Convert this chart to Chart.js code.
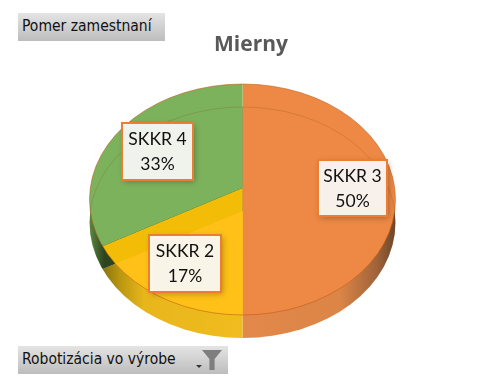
<!DOCTYPE html>
<html lang="sk">
<head>
<meta charset="utf-8">
<title>Mierny</title>
<script src="https://cdn.jsdelivr.net/npm/chart.js@4/dist/chart.umd.min.js"></script>
<style>
    html, body { margin: 0; padding: 0; background: #fff; }
    #wrap { position: relative; width: 485px; height: 388px; overflow: hidden; }
    canvas { position: absolute; left: 0; top: 0; }
    .field {
        position: absolute; left: 18px; height: 28px; padding-left: 4px; box-sizing: border-box;
        font: 15.5px/26px "DejaVu Sans Condensed", "DejaVu Sans", sans-serif; color: #111; background: linear-gradient(#e4e4e4, #bdbdbd);
    }
    #title {
        position: absolute; left: 151px; width: 200px; top: 29px; text-align: center;
        font: bold 21px "Open Sans", sans-serif; color: #595959;
    }
    #arrow { position: absolute; left: 196px; top: 365px; width: 0; height: 0; border: 3px solid transparent; border-top: 3px solid #333; }
    #funnel { position: absolute; left: 202px; top: 350px; width: 20px; height: 20px; background: #7f7f7f; clip-path: polygon(0 0, 100% 0, 63% 45%, 63% 100%, 37% 100%, 37% 45%); }
</style>
</head>
<body>
<div id="wrap">
    <canvas id="chart" width="485" height="388"></canvas>
    <div class="field" style="top:13px;width:147px">Pomer zamestnaní</div>
    <div id="title">Mierny</div>
    <div class="field" style="top:346px;width:210px">Robotizácia vo výrobe</div>
    <div id="arrow"></div>
    <div id="funnel"></div>
</div>
<script>
const categories = ["SKKR 3", "SKKR 2", "SKKR 4"];
const shares = [50, 17, 33];
const shareLabels = ["50%", "17%", "33%"];
const topColors = ["#ed8945", "#f2bc07", "#7db25c"];

const TILT = 0.755;
const RX = 153;
const TOP_CY = 199.5;
const DEPTH = 23;

const labelBoxes = [
    { x: 318, y: 160, w: 69, h: 56, fill: "rgba(255,255,255,0.9)" },
    { x: 149, y: 235, w: 72, h: 57, fill: "rgba(255,255,255,0.9)" },
    { x: 122, y: 123, w: 71, h: 57, fill: "rgba(255,255,255,0.9)" },
];

function ellipsePath(ctx, cy) {
    ctx.beginPath();
    ctx.ellipse(242.5, cy, RX, 115.5, 0, 0, Math.PI * 2);
}

function wedge(ctx, arc, dy, fill) {
    ctx.save();
    ctx.translate(arc.x, arc.y + dy);
    ctx.scale(1, TILT);
    ctx.beginPath();
    ctx.moveTo(0, 0);
    ctx.arc(0, 0, arc.outerRadius, arc.startAngle, arc.endAngle);
    ctx.closePath();
    ctx.restore();
    ctx.fillStyle = fill;
    ctx.fill();
}

function sideGradient(ctx, stops) {
    const g = ctx.createLinearGradient(89, 0, 395, 0);
    stops.forEach(([at, color]) => g.addColorStop(at, color));
    return g;
}

const tiltedPie = {
    id: "tiltedPie",
    beforeDatasetsDraw(chart) {
        const ctx = chart.ctx;
        const arcs = chart.getDatasetMeta(0).data;
        const sides = [
            sideGradient(ctx, [[0.5, "#e2884a"], [0.82, "#db8547"], [0.94, "#a0633a"], [1, "#6e4728"]]),
            sideGradient(ctx, [[0.04, "#86700f"], [0.1, "#b8960f"], [0.18, "#e8b61c"], [0.5, "#f0bc1e"]]),
            sideGradient(ctx, [[0, "#5f8a42"], [0.05, "#2e4420"]]),
        ];
        ctx.save();
        ellipsePath(ctx, TOP_CY + DEPTH);
        ctx.clip();
        arcs.forEach((arc, i) => wedge(ctx, arc, DEPTH, sides[i]));
        ctx.restore();
    },
    beforeDatasetDraw(chart) {
        const ctx = chart.ctx;
        const arc = chart.getDatasetMeta(0).data[0];
        ctx.save();
        ellipsePath(ctx, TOP_CY);
        ctx.clip();
        ctx.translate(arc.x, arc.y);
        ctx.scale(1, TILT);
        ctx.translate(-arc.x, -arc.y);
    },
    afterDatasetDraw(chart) {
        const ctx = chart.ctx;
        const arcs = chart.getDatasetMeta(0).data;
        ctx.restore();

        // lighter yellow face seen through the rim, plus the faint inner rim line
        ctx.save();
        ellipsePath(ctx, TOP_CY);
        ctx.clip();
        wedge(ctx, arcs[1], DEPTH, "#ffc117");
        ellipsePath(ctx, TOP_CY + DEPTH);
        ctx.strokeStyle = "rgba(120,70,10,0.2)";
        ctx.lineWidth = 1;
        ctx.stroke();
        ctx.restore();

        ellipsePath(ctx, TOP_CY);
        ctx.strokeStyle = "rgba(190,90,20,0.55)";
        ctx.lineWidth = 1;
        ctx.stroke();
    },
    afterDraw(chart) {
        const ctx = chart.ctx;
        labelBoxes.forEach((box, i) => {
            ctx.save();
            ctx.shadowColor = "rgba(0,0,0,0.3)";
            ctx.shadowBlur = 6;
            ctx.shadowOffsetX = 2;
            ctx.shadowOffsetY = 2;
            ctx.fillStyle = box.fill;
            ctx.fillRect(box.x, box.y, box.w, box.h);
            ctx.restore();
            ctx.strokeStyle = "#ed7d31";
            ctx.lineWidth = 2;
            ctx.strokeRect(box.x, box.y, box.w, box.h);
            ctx.fillStyle = "#111";
            ctx.font = '17.5px Lato, sans-serif';
            ctx.textAlign = "center";
            ctx.textBaseline = "middle";
            ctx.fillText(categories[i], box.x + box.w / 2, box.y + 16);
            ctx.fillText(shareLabels[i], box.x + box.w / 2, box.y + 41);
        });
    },
};

new Chart(document.getElementById("chart").getContext("2d"), {
    type: "pie",
    data: {
        labels: categories,
        datasets: [{
            data: shares,
            backgroundColor: topColors,
            borderWidth: 0,
            radius: 320,
            clip: false,
        }],
    },
    options: {
        responsive: false,
        animation: false,
        layout: { padding: { bottom: 12 } },
        plugins: {
            legend: { display: false },
            tooltip: { enabled: false },
        },
    },
    plugins: [tiltedPie],
});
</script>
</body>
</html>
